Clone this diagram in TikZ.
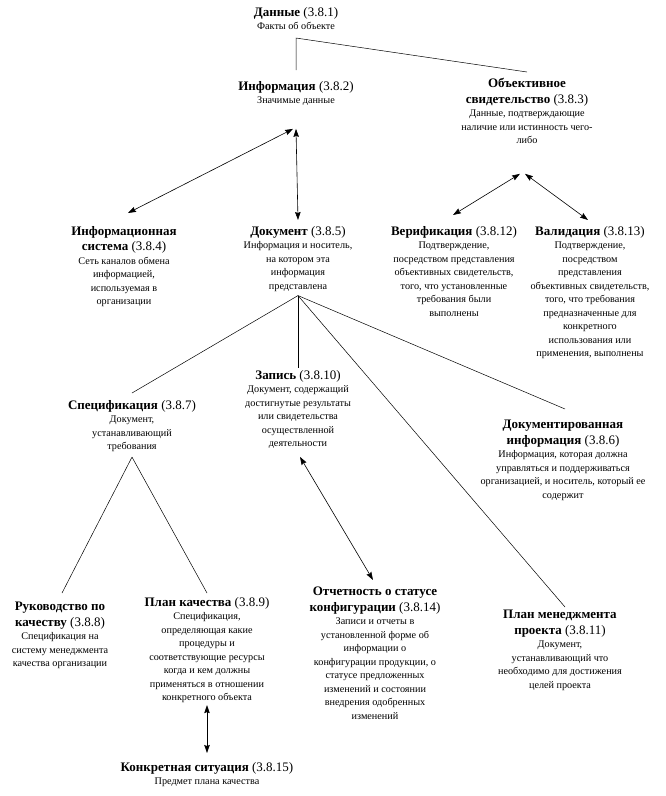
\documentclass[tikz,border=0pt]{standalone}
\usepackage{fontspec}
\setmainfont{Liberation Serif}
\usetikzlibrary{arrows.meta}
\newcommand{\hd}[1]{{\fontsize{13}{15}\selectfont\textbf{#1}}}
\newcommand{\term}[2]{{\fontsize{13}{15}\selectfont\textbf{#1} #2}}
\tikzset{
  concept/.style={anchor=north, align=center, inner sep=0pt, font=\fontsize{10.2}{13.5}\selectfont},
  link/.style={line width=0.5pt},
  twoway/.style={line width=0.6pt, {Stealth[length=8pt,width=5.5pt,inset=1pt]}-{Stealth[length=8pt,width=5.5pt,inset=1pt]}}
}
\begin{document}
\begin{tikzpicture}[x=1pt,y=-1pt]
                \useasboundingbox (0,0) rectangle (665,796);

                \node[concept] (dan) at (296,7) {\term{Данные}{(3.8.1)}\\Факты об объекте};
                \node[concept] (inf) at (296,81) {\term{Информация}{(3.8.2)}\\Значимые данные};
                \node[concept] (obj) at (527,78) {\hd{Объективное}\\[2pt]\term{свидетельство}{(3.8.3)}\\Данные, подтверждающие\\наличие или истинность чего-\\либо};
                \node[concept] (isys) at (124,226) {\hd{Информационная}\\[2pt]\term{система}{(3.8.4)}\\Сеть каналов обмена\\информацией,\\используемая в\\организации};
                \node[concept] (doc) at (298,226) {\term{Документ}{(3.8.5)}\\Информация и носитель,\\на котором эта\\информация\\представлена};
                \node[concept] (ver) at (454,226) {\term{Верификация}{(3.8.12)}\\Подтверждение,\\посредством представления\\объективных свидетельств,\\того, что установленные\\требования были\\выполнены};
                \node[concept] (val) at (590,226) {\term{Валидация}{(3.8.13)}\\Подтверждение,\\посредством\\представления\\объективных свидетельств,\\того, что требования\\предназначенные для\\конкретного\\использования или\\применения, выполнены};
                \node[concept] (zap) at (298,370) {\term{Запись}{(3.8.10)}\\Документ, содержащий\\достигнутые результаты\\или свидетельства\\осуществленной\\деятельности};
                \node[concept] (spec) at (132,400) {\term{Спецификация}{(3.8.7)}\\Документ,\\устанавливающий\\требования};
                \node[concept] (docinf) at (563,420) {\hd{Документированная}\\[2pt]\term{информация}{(3.8.6)}\\Информация, которая должна\\управляться и поддерживаться\\организацией, и носитель, который ее\\содержит};
                \node[concept] (otch) at (375,587) {\hd{Отчетность о статусе}\\[2pt]\term{конфигурации}{(3.8.14)}\\Записи и отчеты в\\установленной форме об\\информации о\\конфигурации продукции, о\\статусе предложенных\\изменений и состоянии\\внедрения одобренных\\изменений};
                \node[concept] (plan) at (207,597) {\term{План качества}{(3.8.9)}\\Спецификация,\\определяющая какие\\процедуры и\\соответствующие ресурсы\\когда и кем должны\\применяться в отношении\\конкретного объекта};
                \node[concept] (ruk) at (60,602) {\hd{Руководство по}\\[2pt]\term{качеству}{(3.8.8)}\\Спецификация на\\систему менеджмента\\качества организации};
                \node[concept] (pmp) at (560,610) {\hd{План менеджмента}\\[2pt]\term{проекта}{(3.8.11)}\\Документ,\\устанавливающий что\\необходимо для достижения\\целей проекта};
                \node[concept] (sit) at (207,762) {\term{Конкретная ситуация}{(3.8.15)}\\Предмет плана качества};

                \draw[link] ([yshift=11pt]inf.north) -- ([yshift=-8pt]dan.south) -- ([yshift=6pt]obj.north);
                \draw[twoway] ([xshift=-3pt,yshift=-23pt]inf.south) -- ([xshift=4pt,yshift=13pt]isys.north);
                \draw[twoway] ([yshift=-23pt]inf.south) -- ([yshift=6pt]doc.north);
                \draw[twoway] ([xshift=-7pt,yshift=-30pt]obj.south) -- ([xshift=-1pt,yshift=11pt]ver.north);
                \draw[twoway] ([xshift=-2pt,yshift=-30pt]obj.south) -- ([xshift=-2pt,yshift=6pt]val.north);
                \draw[link] ([yshift=-4pt]doc.south) -- ([yshift=7pt]spec.north);
                \draw[link] ([yshift=-4pt]doc.south) -- ([yshift=2pt]zap.north);
                \draw[link] ([yshift=-4pt]doc.south) -- ([xshift=5pt,yshift=3pt]pmp.north);
                \draw[link] ([yshift=-4pt]doc.south) -- ([xshift=2pt,yshift=11pt]docinf.north);
                \draw[link] ([yshift=-5pt]spec.south) -- ([xshift=2pt,yshift=9pt]ruk.north);
                \draw[link] ([yshift=-5pt]spec.south) -- ([yshift=4pt]plan.north);
                \draw[twoway] ([xshift=2pt,yshift=-8pt]zap.south) -- ([xshift=-2pt,yshift=7pt]otch.north);
                \draw[twoway] ([yshift=-2pt]plan.south) -- ([yshift=9pt]sit.north);
\end{tikzpicture}
\end{document}
